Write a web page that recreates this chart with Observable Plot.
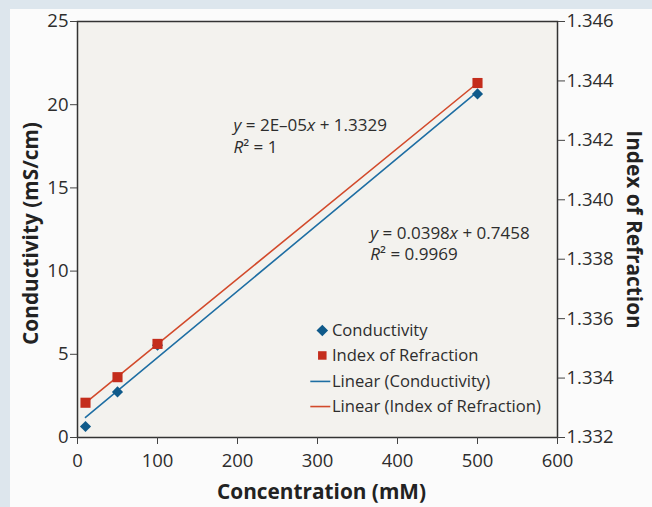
<!DOCTYPE html>
<html>
<head>
<meta charset="utf-8">
<script src="https://cdn.jsdelivr.net/npm/d3@7"></script>
<script src="https://cdn.jsdelivr.net/npm/@observablehq/plot@0.6"></script>
<style>
  html, body { margin: 0; padding: 0; }
  body { background: #dde6ed; }
  #page { position: relative; width: 652px; height: 507px; overflow: hidden; }
  #panel { position: absolute; left: 10px; top: 9px; width: 642px; height: 498px; background: #fbfbfb; }
  #page svg { position: absolute; left: 0; top: 0; display: block; }
</style>
</head>
<body>
<div id="page"><div id="panel"></div></div>
<script>
// Measurements
const concentration = [10, 50, 100, 500];          // mM
const conductivity  = [0.66, 2.74, 5.55, 20.65];    // mS/cm
const refraction    = [1.33317, 1.33403, 1.33515, 1.34393];

// Axis ticks
const xTicks = [0, 100, 200, 300, 400, 500, 600];
const leftTicks = [0, 5, 10, 15, 20, 25];
const rightTicks = [1.332, 1.334, 1.336, 1.338, 1.340, 1.342, 1.344, 1.346];

// Trendline equations as reported
const equationRefraction = ["y = 2E–05x + 1.3329", "R² = 1"];
const equationConductivity = ["y = 0.0398x + 0.7458", "R² = 0.9969"];

// Legend entries
const legendNames = ["Conductivity", "Index of Refraction", "Linear (Conductivity)", "Linear (Index of Refraction)"];

const blue = "#0f5a8a", red = "#c42d1c";
const blueLine = "#1e6ea3", redLine = "#d24a2b";

// Refraction is plotted against the right axis: map it onto the left scale
const leftDomain = [0, 25], rightDomain = [1.332, 1.346];
const toLeft = v => (v - rightDomain[0]) / (rightDomain[1] - rightDomain[0]) * (leftDomain[1] - leftDomain[0]);
const fromLeft = d => rightDomain[0] + d / (leftDomain[1] - leftDomain[0]) * (rightDomain[1] - rightDomain[0]);

const rows = concentration.map((c, i) => ({c, cond: conductivity[i], ref: toLeft(refraction[i])}));

// Annotation placement (data units)
const eqRows = [
  {x: 195, y: 18.75, t: equationRefraction[0]},
  {x: 195, y: 17.43, t: equationRefraction[1]},
  {x: 366, y: 12.26, t: equationConductivity[0]},
  {x: 366, y: 11.0,  t: equationConductivity[1]}
];
const legendY = [6.43, 4.93, 3.37, 1.86];
const legendRows = legendNames.map((name, i) => ({name, y: legendY[i], i}));

const titleFont = {fontWeight: "bold", fontSize: 20.8, fill: "#222"};

const chart = Plot.plot({
  width: 652,
  height: 507,
  marginLeft: 77,
  marginTop: 21,
  marginRight: 95,
  marginBottom: 70,
  style: {fontFamily: "'Open Sans', sans-serif", fontSize: "18.5px", color: "#2d2d2d", background: "transparent"},
  x: {domain: [0, 600]},
  y: {domain: leftDomain},
  marks: [
    Plot.frame({fill: "#f3f2ee"}),
    Plot.linearRegressionY(rows, {x: "c", y: "cond", stroke: blueLine, strokeWidth: 1.6, ci: 0}),
    Plot.linearRegressionY(rows, {x: "c", y: "ref", stroke: redLine, strokeWidth: 1.6, ci: 0}),
    Plot.dot(rows, {x: "c", y: "cond", symbol: "diamond2", fill: blue, r: 5}),
    Plot.dot(rows, {x: "c", y: "ref", symbol: "square", fill: red, r: 5.7}),
    Plot.frame({stroke: "#333333", strokeWidth: 1.5}),
    Plot.axisX(xTicks, {tickSize: 7, tickPadding: 9, label: null, stroke: "#444"}),
    Plot.axisY(leftTicks, {anchor: "left", tickSize: 7, tickPadding: 2, label: null, stroke: "#444"}),
    Plot.axisY(rightTicks.map(toLeft), {anchor: "right", tickSize: 7, tickPadding: 2, label: null, stroke: "#444",
      tickFormat: d => fromLeft(d).toFixed(3)}),
    // Axis titles
    Plot.text(["Concentration (mM)"], {frameAnchor: "bottom", dx: 4, dy: 61, ...titleFont}),
    Plot.text(["Conductivity (mS/cm)"], {frameAnchor: "left", textAnchor: "middle", dx: -46, dy: 4, rotate: -90, ...titleFont}),
    Plot.text(["Index of Refraction"], {frameAnchor: "right", textAnchor: "middle", dx: 76, rotate: 90, ...titleFont}),
    // Trendline equations
    Plot.text(eqRows, {x: "x", y: "y", text: "t", textAnchor: "start", fontSize: 17, fill: "#2d2d2d"}),
    // Legend
    Plot.dot(legendRows.filter(d => d.i === 0), {x: 306, y: "y", symbol: "diamond2", fill: blue, r: 5.2}),
    Plot.dot(legendRows.filter(d => d.i === 1), {x: 306, y: "y", symbol: "square", fill: red, r: 4.8}),
    Plot.link(legendRows.filter(d => d.i >= 2), {x1: 291, x2: 316, y1: "y", y2: "y",
      stroke: d => d.i === 2 ? blueLine : redLine, strokeWidth: 1.6}),
    Plot.text(legendRows, {x: 318, y: "y", text: "name", textAnchor: "start", fontSize: 16.6, fill: "#2d2d2d"})
  ]
});

// Italicise the variables in the trendline equations
d3.select(chart).selectAll("text").each(function () {
  const s = this.textContent;
  if (!/^(y = |R² = )/.test(s)) return;
  const node = d3.select(this);
  node.text(null);
  for (const ch of s) {
    const t = node.append("tspan").text(ch);
    if (ch === "x" || ch === "y" || ch === "R") t.attr("font-style", "italic");
  }
});

document.getElementById("page").appendChild(chart);
</script>
</body>
</html>
